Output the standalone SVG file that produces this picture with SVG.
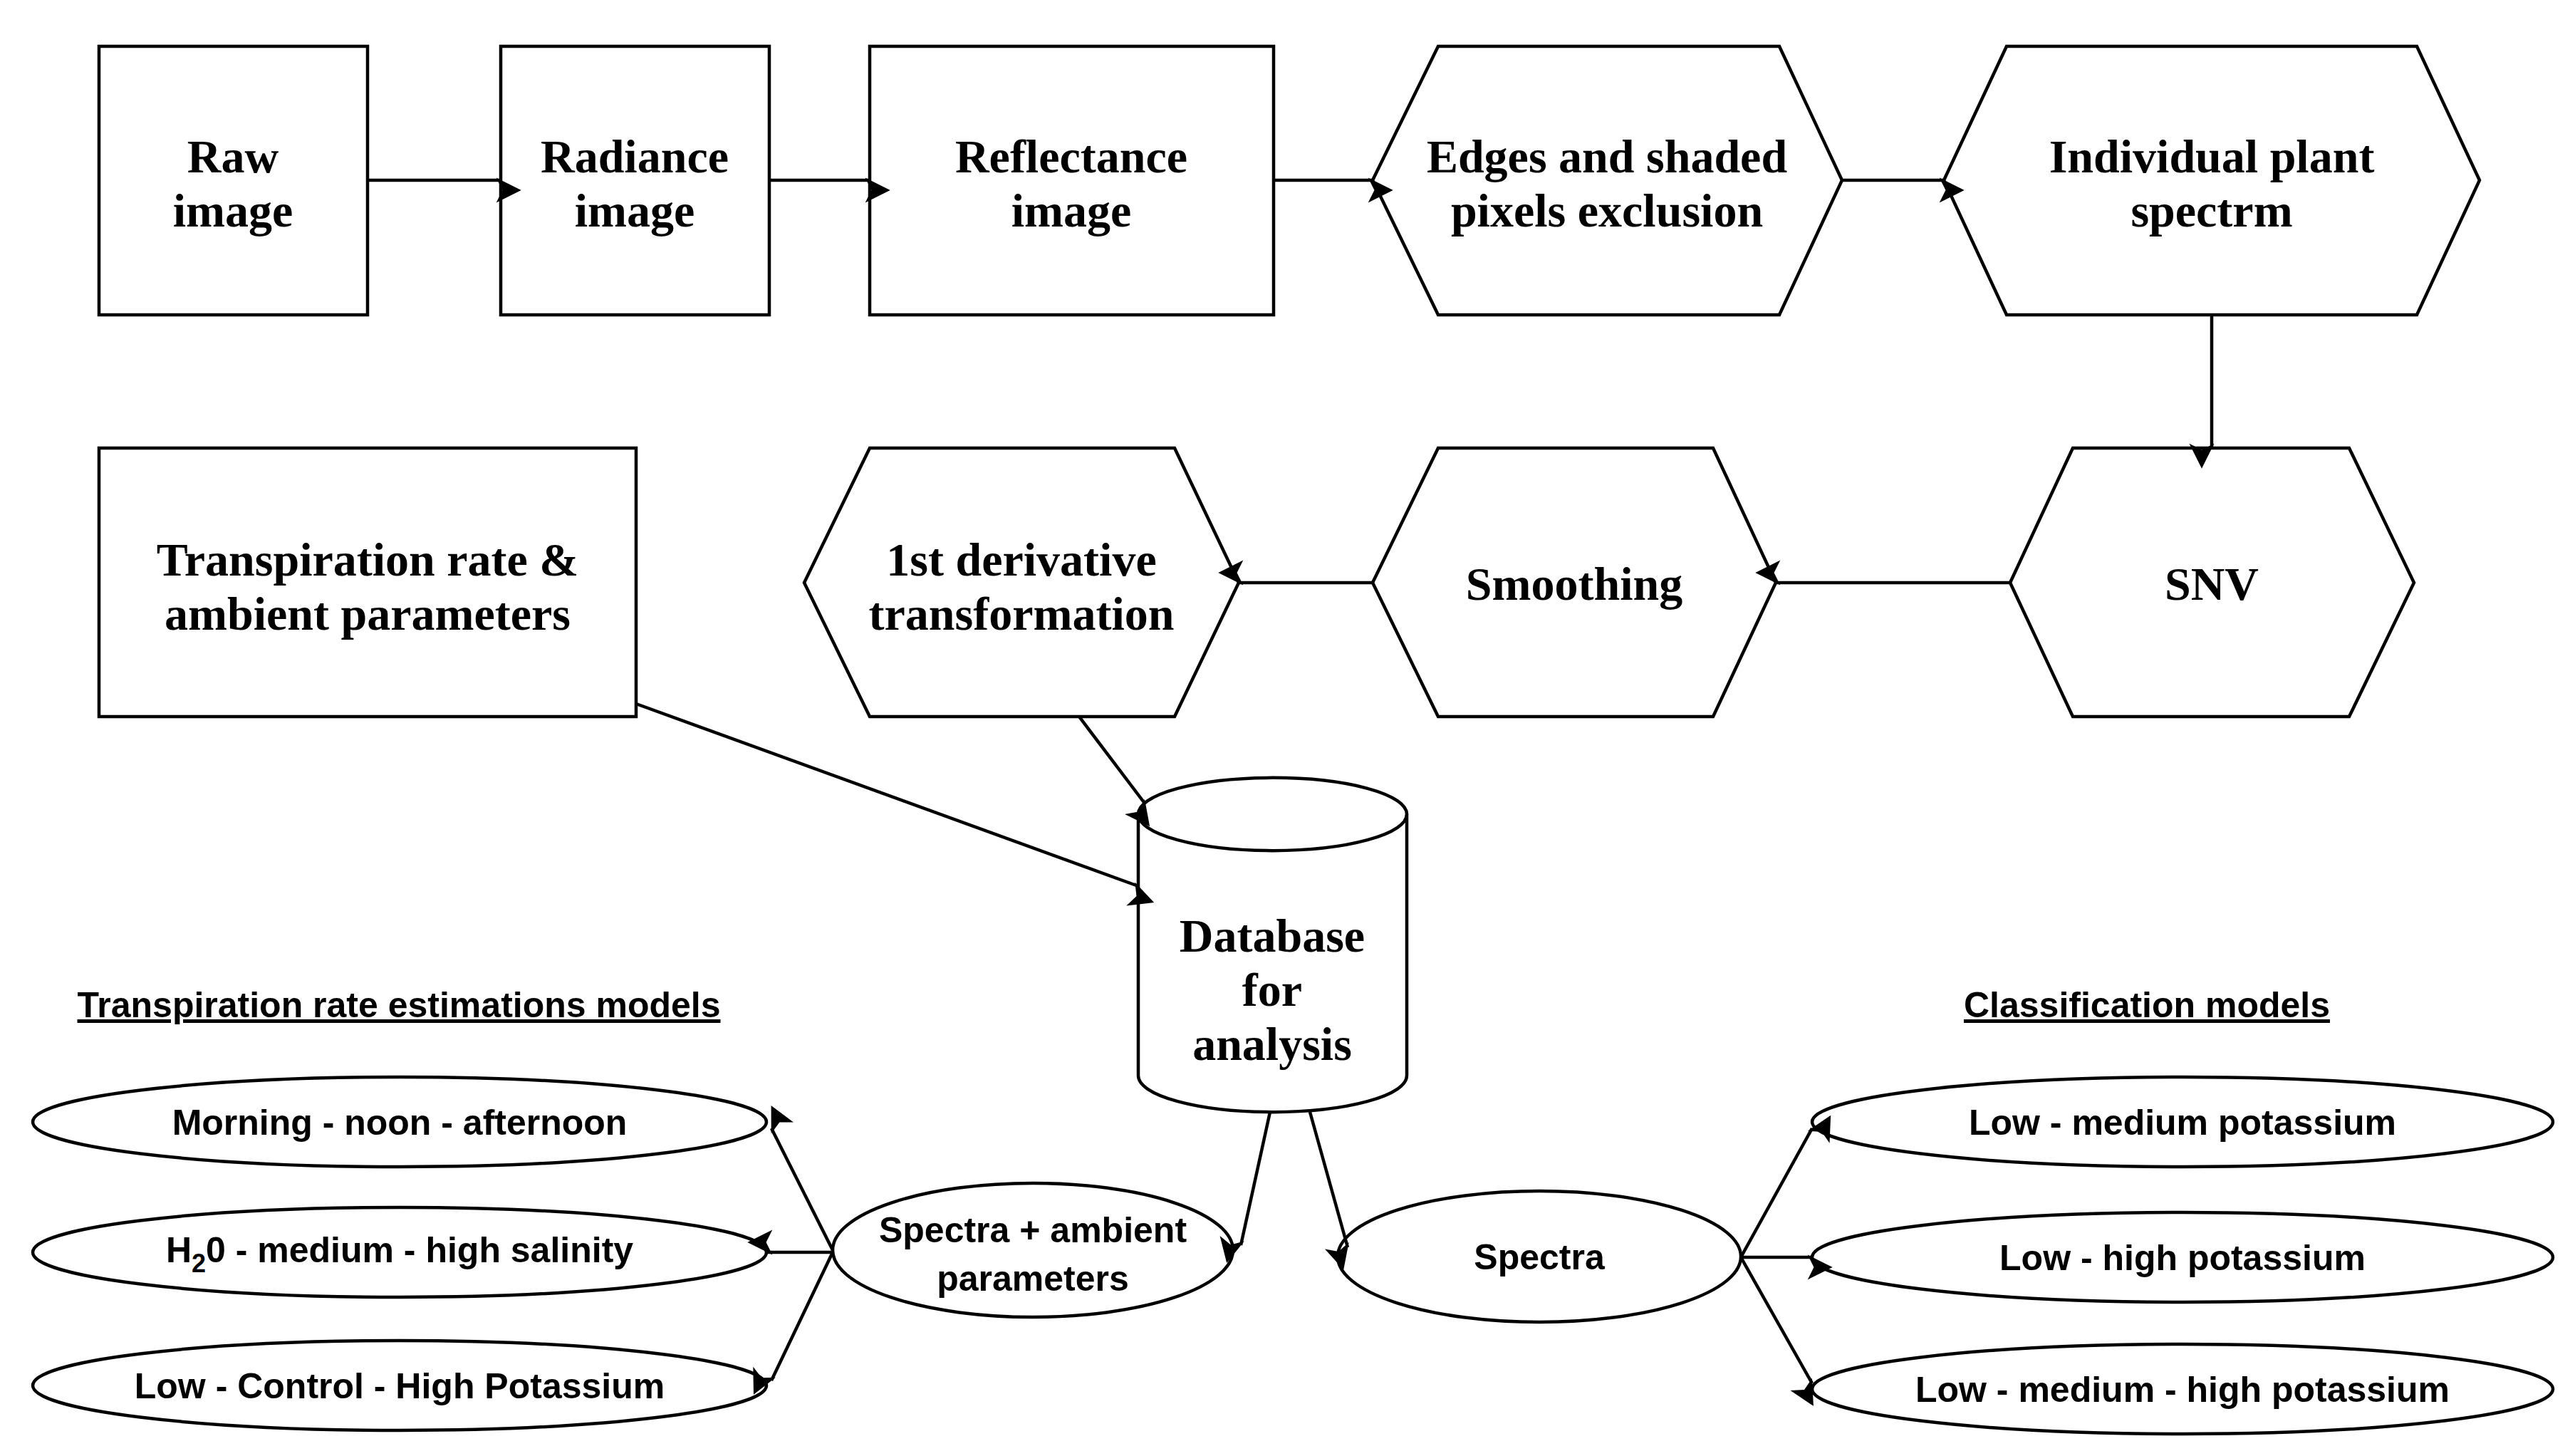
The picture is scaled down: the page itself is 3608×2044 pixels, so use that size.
<svg xmlns="http://www.w3.org/2000/svg" width="3608" height="2044" viewBox="0 0 3608 2044">
<style>
.s{fill:#fff;stroke:#000;stroke-width:4.5}
.t{font-family:"Liberation Serif",serif;font-weight:bold;font-size:66px;text-anchor:middle;fill:#000}
.a{font-family:"Liberation Sans",sans-serif;font-weight:bold;font-size:50px;text-anchor:middle;fill:#000}
.h{font-family:"Liberation Sans",sans-serif;font-weight:bold;font-size:50px;text-anchor:middle;fill:#000;text-decoration:underline}
.c{fill:none;stroke:#000;stroke-width:4.5;marker-end:url(#m)}
</style>
<defs>
<marker id="m" viewBox="0 0 10 10" refX="9" refY="5" markerWidth="7" markerHeight="7" markerUnits="userSpaceOnUse" orient="auto" overflow="visible">
<path d="M0,0 L10,5 L0,10 L2.5,5 Z" fill="#000" transform="scale(5) translate(-5,-5) translate(5,5)"/>
</marker>
</defs>
<rect width="3608" height="2044" fill="#fff"/>
<g id="raw"><rect class="s" x="139" y="65" width="377" height="377"/><text class="t" x="327" y="242">Raw</text><text class="t" x="327" y="318">image</text></g>
<g id="radiance"><rect class="s" x="703" y="65" width="377" height="377"/><text class="t" x="891" y="242">Radiance</text><text class="t" x="891" y="318">image</text></g>
<g id="reflectance"><rect class="s" x="1221" y="65" width="567" height="377"/><text class="t" x="1504" y="242">Reflectance</text><text class="t" x="1504" y="318">image</text></g>
<g id="edges"><polygon class="s" points="1927,253 2019,65 2498,65 2586,253 2498,442 2019,442"/><text class="t" x="2256" y="242">Edges and shaded</text><text class="t" x="2256" y="318">pixels exclusion</text></g>
<g id="individual"><polygon class="s" points="2729,253 2817,65 3393,65 3481,253 3393,442 2817,442"/><text class="t" x="3105" y="242">Individual plant</text><text class="t" x="3105" y="318">spectrm</text></g>
<g id="transpiration"><rect class="s" x="139" y="629" width="754" height="377"/><text class="t" x="516" y="808">Transpiration rate &amp;</text><text class="t" x="516" y="884">ambient parameters</text></g>
<g id="deriv"><polygon class="s" points="1129,818 1221,629 1649,629 1739,818 1649,1006 1221,1006"/><text class="t" x="1434" y="808">1st derivative</text><text class="t" x="1434" y="884">transformation</text></g>
<g id="smoothing"><polygon class="s" points="1927,818 2019,629 2405,629 2493,818 2405,1006 2019,1006"/><text class="t" x="2210" y="842">Smoothing</text></g>
<g id="snv"><polygon class="s" points="2822,818 2910,629 3298,629 3389,818 3298,1006 2910,1006"/><text class="t" x="3105" y="842">SNV</text></g>
<g id="database"><path class="s" d="M1598,1143 A188,51 0 0 1 1975,1143 L1975,1510 A188,51 0 0 1 1598,1510 Z"/><path d="M1598,1143 A188,51 0 0 0 1975,1143" fill="none" stroke="#000" stroke-width="4.5"/><text class="t" x="1786" y="1336">Database</text><text class="t" x="1786" y="1412">for</text><text class="t" x="1786" y="1488">analysis</text></g>
<g id="heading-left"><text class="h" x="560" y="1428">Transpiration rate estimations models</text></g>
<g id="heading-right"><text class="h" x="3014" y="1428">Classification models</text></g>
<g id="morning"><ellipse class="s" cx="561" cy="1575" rx="515" ry="63"/><text class="a" x="561" y="1593">Morning - noon - afternoon</text></g>
<g id="salinity"><ellipse class="s" cx="561" cy="1758" rx="515" ry="63"/><text class="a" x="561" y="1772">H<tspan font-size="36" dy="14">2</tspan><tspan dy="-14">0 - medium - high salinity</tspan></text></g>
<g id="lowcontrol"><ellipse class="s" cx="561" cy="1945" rx="515" ry="63"/><text class="a" x="561" y="1963">Low - Control - High Potassium</text></g>
<g id="spectra-amb"><ellipse class="s" cx="1450" cy="1755" rx="281" ry="94"/><text class="a" x="1450" y="1744">Spectra + ambient</text><text class="a" x="1450" y="1812">parameters</text></g>
<g id="spectra"><ellipse class="s" cx="2161" cy="1764" rx="283" ry="92"/><text class="a" x="2161" y="1782">Spectra</text></g>
<g id="lowmed"><ellipse class="s" cx="3064" cy="1575" rx="520" ry="63"/><text class="a" x="3064" y="1593">Low - medium potassium</text></g>
<g id="lowhigh"><ellipse class="s" cx="3064" cy="1765" rx="520" ry="63"/><text class="a" x="3064" y="1783">Low - high potassium</text></g>
<g id="lowmedhigh"><ellipse class="s" cx="3064" cy="1950" rx="520" ry="63"/><text class="a" x="3064" y="1968">Low - medium - high potassium</text></g>
<g id="connectors">
<line class="c" x1="516" y1="253" x2="703" y2="253"/>
<line class="c" x1="1080" y1="253" x2="1221" y2="253"/>
<line class="c" x1="1788" y1="253" x2="1927" y2="253"/>
<line class="c" x1="2586" y1="253" x2="2729" y2="253"/>
<line class="c" x1="3105" y1="442" x2="3105" y2="629"/>
<line class="c" x1="2822" y1="818" x2="2493" y2="818"/>
<line class="c" x1="1927" y1="818" x2="1739" y2="818"/>
<line class="c" x1="1515" y1="1006" x2="1608" y2="1129"/>
<line class="c" x1="893" y1="988" x2="1598" y2="1244"/>
<line class="c" x1="1783" y1="1561" x2="1742" y2="1748"/>
<line class="c" x1="1839" y1="1561" x2="1892" y2="1751"/>
<line class="c" x1="1169" y1="1755" x2="1083" y2="1584"/>
<line class="c" x1="1169" y1="1758" x2="1078" y2="1758"/>
<line class="c" x1="1169" y1="1758" x2="1083" y2="1938"/>
<line class="c" x1="2444" y1="1765" x2="2544" y2="1584"/>
<line class="c" x1="2444" y1="1765" x2="2544" y2="1765"/>
<line class="c" x1="2444" y1="1765" x2="2544" y2="1942"/>
</g>
</svg>
